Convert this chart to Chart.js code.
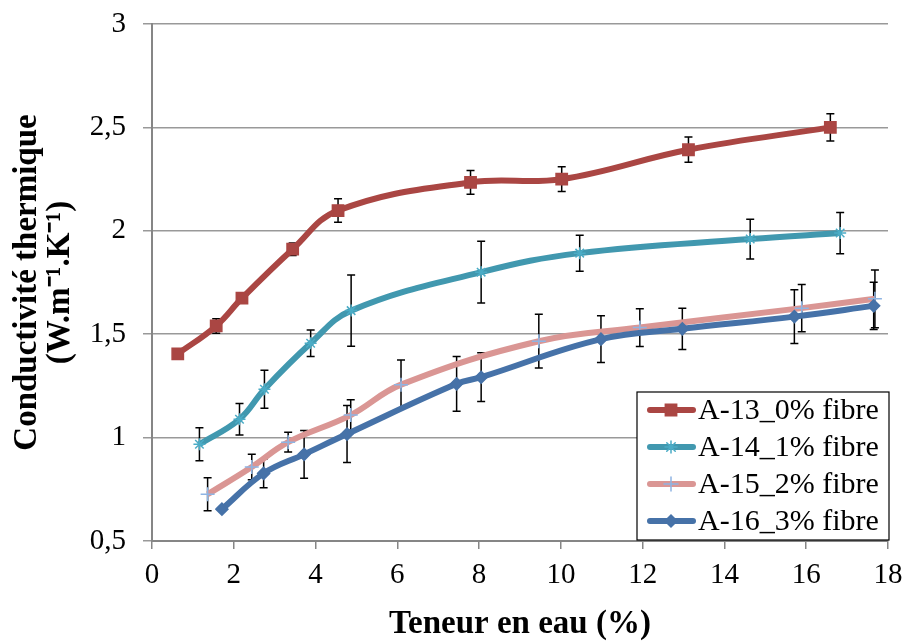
<!DOCTYPE html>
<html>
<head>
<meta charset="utf-8">
<title>Conductivité thermique</title>
<script src="https://cdn.jsdelivr.net/npm/chart.js@4/dist/chart.umd.min.js"></script>
<style>
    html, body { margin: 0; padding: 0; background: #fff; }
    #chart { display: block; }
</style>
</head>
<body>
<canvas id="chart" width="905" height="641"></canvas>
<script>
// Values
const seriesNames = ['A-13_0% fibre', 'A-14_1% fibre', 'A-15_2% fibre', 'A-16_3% fibre'];

const redX = [0.63, 1.57, 2.20, 3.44, 4.55, 7.79, 10.02, 13.12, 16.59];
const redY = [1.405, 1.54, 1.674, 1.911, 2.098, 2.234, 2.25, 2.392, 2.50];
const redErr = [0, 0.035, 0, 0.03, 0.057, 0.057, 0.06, 0.061, 0.066];

const tealX = [1.16, 2.14, 2.75, 3.88, 4.87, 8.05, 10.46, 14.63, 16.83];
const tealY = [0.968, 1.089, 1.234, 1.456, 1.614, 1.80, 1.892, 1.96, 1.989];
const tealErr = [0.08, 0.076, 0.092, 0.064, 0.172, 0.149, 0.087, 0.096, 0.10];

const pinkX = [1.36, 2.44, 3.33, 4.86, 6.09, 9.46, 11.93, 15.89, 17.68];
const pinkY = [0.726, 0.858, 0.978, 1.109, 1.256, 1.466, 1.532, 1.626, 1.671];
const pinkErr = [0.08, 0.062, 0.048, 0.074, 0.119, 0.13, 0.091, 0.114, 0.14];

const blueX = [1.71, 2.73, 3.72, 4.77, 7.45, 8.05, 10.98, 12.97, 15.71, 17.65];
const blueY = [0.654, 0.827, 0.919, 1.017, 1.26, 1.292, 1.476, 1.526, 1.585, 1.637];
const blueErr = [0, 0.07, 0.115, 0.138, 0.132, 0.118, 0.113, 0.10, 0.13, 0.114];

const xTicks = [0, 2, 4, 6, 8, 10, 12, 14, 16, 18];
const yTicks = [0.5, 1, 1.5, 2, 2.5, 3];

const errors = [redErr, tealErr, pinkErr, blueErr];

function toPoints(xs, ys) {
    return xs.map((x, i) => ({ x: x, y: ys[i] }));
}

const serif = "'Liberation Serif', 'Times New Roman', serif";

// Vertical error bars, drawn under the lines
const errorBars = {
    id: 'errorBars',
    beforeDatasetsDraw(chart) {
        const ctx = chart.ctx;
        const xScale = chart.scales.x;
        const yScale = chart.scales.y;
        ctx.save();
        ctx.strokeStyle = '#000';
        ctx.lineWidth = 1.5;
        chart.data.datasets.forEach((ds, d) => {
            ds.data.forEach((p, i) => {
                const e = errors[d][i];
                if (!e) return;
                const x = xScale.getPixelForValue(p.x);
                const y1 = yScale.getPixelForValue(p.y - e);
                const y2 = yScale.getPixelForValue(p.y + e);
                ctx.beginPath();
                ctx.moveTo(x, y1); ctx.lineTo(x, y2);
                ctx.moveTo(x - 4, y1); ctx.lineTo(x + 4, y1);
                ctx.moveTo(x - 4, y2); ctx.lineTo(x + 4, y2);
                ctx.stroke();
            });
        });
        ctx.restore();
    }
};

// Legend box inside the plot, bottom right
const boxLegend = {
    id: 'boxLegend',
    afterDraw(chart) {
        const ctx = chart.ctx;
        const area = chart.chartArea;
        const left = area.right - 251;
        const top = area.top + 368;
        const w = 252, h = 148;
        ctx.save();
        ctx.fillStyle = '#fff';
        ctx.fillRect(left, top, w, h);
        ctx.strokeStyle = '#000';
        ctx.lineWidth = 1.2;
        ctx.strokeRect(left, top, w, h);
        chart.data.datasets.forEach((ds, i) => {
            const cy = top + 18 + i * 37;
            ctx.strokeStyle = ds.borderColor;
            ctx.lineWidth = ds.borderWidth;
            ctx.lineCap = 'round';
            ctx.beginPath();
            ctx.moveTo(left + 13, cy);
            ctx.lineTo(left + 56, cy);
            ctx.stroke();
            ctx.fillStyle = ds.pointBackgroundColor;
            ctx.strokeStyle = ds.pointBorderColor;
            ctx.lineWidth = ds.pointBorderWidth;
            Chart.helpers.drawPoint(ctx, {
                pointStyle: ds.pointStyle,
                radius: ds.pointRadius,
                borderWidth: ds.pointBorderWidth
            }, left + 34, cy);
            ctx.fillStyle = '#000';
            ctx.font = '30px ' + serif;
            ctx.textBaseline = 'middle';
            ctx.textAlign = 'left';
            ctx.fillText(seriesNames[i], left + 61, cy + 1);
        });
        ctx.restore();
    }
};

function makeSet(i, xs, ys, line, marker, style, radius, order) {
    return {
        label: seriesNames[i],
        data: toPoints(xs, ys),
        borderColor: line,
        borderWidth: 6,
        tension: 0.4,
        fill: false,
        pointStyle: style,
        pointRadius: radius,
        pointBackgroundColor: marker,
        pointBorderColor: marker,
        pointBorderWidth: 1.5,
        order: order
    };
}

const ctx = document.getElementById('chart').getContext('2d');
new Chart(ctx, {
    type: 'line',
    data: {
        datasets: [
            makeSet(0, redX, redY, '#AA4643', '#AA4643', 'rect', 8, 3),
            makeSet(1, tealX, tealY, '#4198AF', '#4BACC6', 'star', 6, 2),
            makeSet(2, pinkX, pinkY, '#DA9694', '#8EB4E3', 'cross', 7, 1),
            makeSet(3, blueX, blueY, '#4672A8', '#4672A8', 'rectRot', 6, 0)
        ]
    },
    options: {
        responsive: false,
        animation: false,
        layout: { padding: { left: 0, right: 17, top: 24, bottom: 0 } },
        plugins: {
            legend: { display: false },
            tooltip: { enabled: false }
        },
        scales: {
            x: {
                type: 'linear',
                min: 0,
                max: 18,
                afterBuildTicks: scale => { scale.ticks = xTicks.map(v => ({ value: v })); },
                afterFit: scale => { scale.height = 100; scale.paddingRight = 0; scale.paddingLeft = 0; },
                grid: { display: true, drawOnChartArea: false, drawTicks: true, tickLength: 8, color: '#868686', lineWidth: 1.5 },
                border: { display: true, color: '#868686', width: 2 },
                ticks: { color: '#000', font: { family: serif, size: 29 }, padding: 9, maxRotation: 0 },
                title: { display: true, text: 'Teneur en eau (%)', color: '#000', font: { family: serif, size: 33, weight: 'bold', lineHeight: 1 }, padding: 0 }
            },
            y: {
                type: 'linear',
                min: 0.5,
                max: 3,
                afterBuildTicks: scale => { scale.ticks = yTicks.map(v => ({ value: v })); },
                afterFit: scale => { scale.width = 152; scale.paddingTop = 0; scale.paddingBottom = 0; },
                grid: { color: '#999999', lineWidth: 1.5, tickLength: 9 },
                border: { display: true, color: '#868686', width: 2 },
                ticks: {
                    color: '#000',
                    font: { family: serif, size: 29 },
                    padding: 17,
                    callback: v => String(v).replace('.', ',')
                },
                title: {
                    display: true,
                    text: ['Conductivité thermique', '(W.m\u207B\u00B9.K\u207B\u00B9)'],
                    color: '#000',
                    font: { family: serif, size: 33, weight: 'bold', lineHeight: 1 },
                    padding: { top: 11, bottom: 0 }
                }
            }
        }
    },
    plugins: [errorBars, boxLegend]
});
</script>
</body>
</html>
